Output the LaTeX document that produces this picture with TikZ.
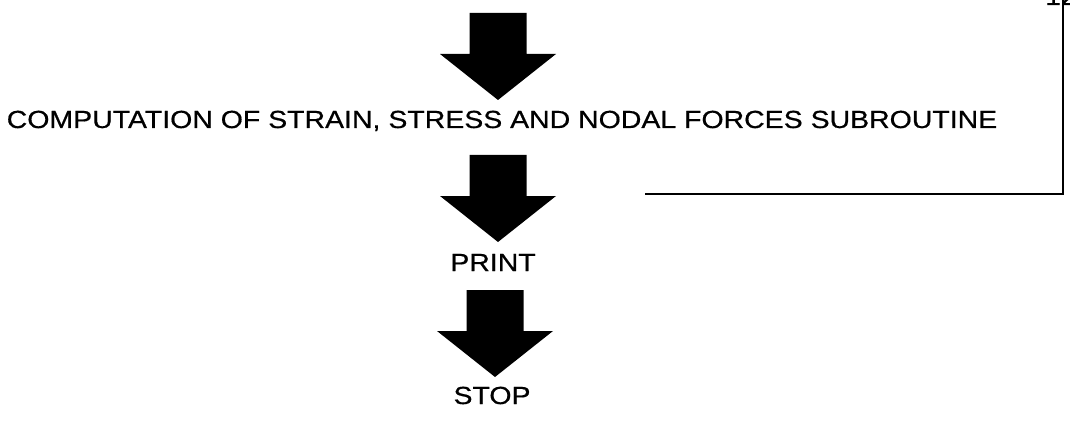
\documentclass[tikz,border=0pt]{standalone}
\usepackage{fontspec}
\setmainfont[FakeStretch=1.15,FakeBold=0.6]{Liberation Sans}
\usepackage{tikz}
\usetikzlibrary{arrows.meta,positioning,calc}
\tikzset{
  blockarrow/.pic={\fill (-28.5,0) -- (28.5,0) -- (28.5,41) -- (58,41) -- (0,87) -- (-58,41) -- (-28.5,41) -- cycle;},
  steplabel/.style={anchor=base, inner sep=0pt}
}

\begin{document}
\begin{tikzpicture}[x=0.025cm, y=-0.025cm, every node/.style={font=\fontsize{17.6}{20}\selectfont}]
    \useasboundingbox (0,0) rectangle (1070,426);
    \pic (arrA) at (498,13) {blockarrow};
    \pic (arrB) at (498,155) {blockarrow};
    \pic (arrC) at (495,290) {blockarrow};
    \node[steplabel] (comp) at (502,128) {COMPUTATION OF STRAIN, STRESS AND NODAL FORCES SUBROUTINE};
    \node[steplabel] (print) at (493,271) {PRINT};
    \node[steplabel] (stop) at (492,404) {STOP};
    \node[steplabel] (pagenum) at (1061,5) {12};
    \coordinate (looptop) at (1063,-10);
    \coordinate (loopcorner) at (1063,194);
    \coordinate (loopend) at (645,194);
    \draw[line width=1.4pt] (looptop) -- (loopcorner) -- (loopend);
  \end{tikzpicture}
\end{document}
